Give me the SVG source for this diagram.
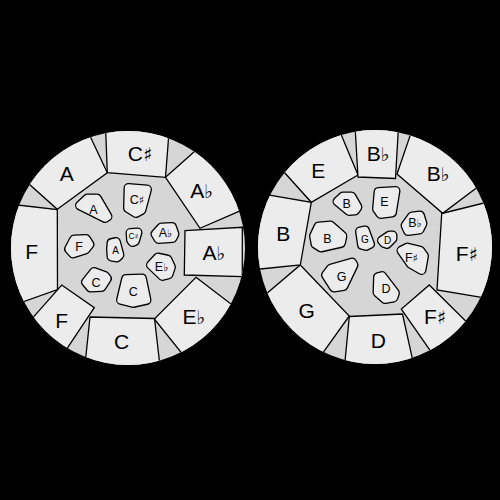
<svg xmlns="http://www.w3.org/2000/svg" xmlns:xlink="http://www.w3.org/1999/xlink" width="500" height="500" viewBox="0 0 500 500">
<style>
.base{fill:#d6d6d6}
.cell{fill:#ececec;stroke:#000;stroke-width:1.3;stroke-linejoin:miter}
.po{fill:#000;stroke:#000;stroke-width:10;stroke-linejoin:round}
.pi{fill:#ececec;stroke:#ececec;stroke-width:7.4;stroke-linejoin:round}
text{font-family:"Liberation Sans","DejaVu Sans",Arial,sans-serif;fill:#000;text-anchor:middle}
.big{font-size:21px}
.pad{font-size:12.5px}
.sm{font-size:10px}
.xs{font-size:8.5px}
.acc{font-family:"DejaVu Sans",sans-serif;font-size:0.9em;fill:#000}
</style>
<defs>
<clipPath id="clipL"><circle cx="128" cy="248" r="117"/></clipPath>
<clipPath id="clipR"><circle cx="375" cy="247" r="117"/></clipPath>
<polygon id="pL1" points="87.5,198.5 97,198.5 107.5,216.5 105,218 80,205.5"/>
<polygon id="pL2" points="128.5,188 147,189.5 141.5,210 136,213 128,208"/>
<polygon id="pL3" points="155.5,234 161.5,227.5 172,227 174.5,234 172.5,238 158.5,239"/>
<polygon id="pL4" points="130.5,233 137.5,232.5 135,241 132.5,242 131,240"/>
<polygon id="pL5" points="74,239.5 86,239 89.5,244.5 85.5,249.5 73,253.5 69,249"/>
<polygon id="pL6" points="111.5,243 116,242 119.5,255 117,257.5 111.5,256.5 111,249"/>
<polygon id="pL7" points="151,265 158,257.5 167.5,259.5 171,267 168.5,274.5 162.5,276"/>
<polygon id="pL8" points="94,272 105,276 107,278.5 101.5,287 90.5,287.5 86,282"/>
<polygon id="pL9" points="126,279 142,278.5 146.5,300 133,303 121,300"/>
<polygon id="pR1" points="337.5,201.5 343,196.5 351.5,196.5 357.5,207 355,210.5 349,211"/>
<polygon id="pR2" points="378.5,192 395.5,191 392,212.5 380.5,214 377,209"/>
<polygon id="pR3" points="405.5,225.5 412,216.5 420,215.5 422.5,223.5 419.5,229.5 408,231"/>
<polygon id="pR4" points="314,236 318.5,226.5 330.5,225.5 342.5,236 341,243 321,247.5 315.5,244"/>
<polygon id="pR5" points="360,231.5 365,230.5 370,244 366,246 362,245"/>
<polygon id="pR6" points="382,240.5 389.5,235.5 392.5,235.5 392.5,238.5 387,244 384,243"/>
<polygon id="pR7" points="401.5,250.5 407.5,247.5 420,250.5 424,256 421.5,270 411,264"/>
<polygon id="pR8" points="326,275 331,268.5 352,262.5 353.5,265 343.5,286 334,287.5"/>
<polygon id="pR9" points="378,277 382,276 395,293 393.5,297.5 385,299 377.5,292.5"/>
</defs>
<rect width="500" height="500" fill="#000"/>

<!-- LEFT INSTRUMENT -->
<g id="left-drum">
<circle class="base" cx="128" cy="248" r="117"/>
<g clip-path="url(#clipL)">
<g id="L-A"><polygon class="cell" points="57.3,209.3 107.3,172.7 72.7,99.3 1.3,159.3"/><text class="big" x="66.7" y="181">A</text></g>
<g id="L-Cs"><polygon class="cell" points="104.5,100 107.3,172.7 165.5,177.3 171.5,100"/><text class="big" x="140" y="161">C<tspan class="acc">♯</tspan></text></g>
<g id="L-Ab1"><polygon class="cell" points="165.5,177.3 221,128 276.6,195 200,228.3"/><text class="big" x="201.7" y="197.5">A<tspan class="acc">♭</tspan></text></g>
<g id="L-Ab2"><polygon class="cell" points="185,230.7 242.3,227.3 242.3,276.7 184.3,275"/><text class="big" x="214" y="259.5">A<tspan class="acc">♭</tspan></text></g>
<g id="L-Eb"><polygon class="cell" points="196,277.3 264,329.3 205.7,383 154.3,319"/><text class="big" x="194" y="324">E<tspan class="acc">♭</tspan></text></g>
<g id="L-C"><polygon class="cell" points="90,317 154.5,318.5 164.5,405.5 81.4,399"/><text class="big" x="121.7" y="349">C</text></g>
<g id="L-F2"><polygon class="cell" points="61.7,285 94.3,307.7 42.3,385.7 6.9,347"/><text class="big" x="61.7" y="327.5">F</text></g>
<g id="L-F1"><polygon class="cell" points="57.3,209.5 57.5,289.5 -10.9,313.9 -21.9,200.5"/><text class="big" x="31.7" y="259">F</text></g>
</g>
<g id="L-pad-A"><use xlink:href="#pL1" class="po"/><use xlink:href="#pL1" class="pi"/><text class="pad" x="93.3" y="213.8">A</text></g>
<g id="L-pad-Cs"><use xlink:href="#pL2" class="po"/><use xlink:href="#pL2" class="pi"/><text class="pad" x="137" y="203.8">C<tspan class="acc">♯</tspan></text></g>
<g id="L-pad-Ab"><use xlink:href="#pL3" class="po"/><use xlink:href="#pL3" class="pi"/><text class="pad" x="165.5" y="236.5">A<tspan class="acc">♭</tspan></text></g>
<g id="L-pad-Cs-small"><use xlink:href="#pL4" class="po"/><use xlink:href="#pL4" class="pi"/><text class="xs" x="133.5" y="238.6">C<tspan class="acc">♯</tspan></text></g>
<g id="L-pad-F"><use xlink:href="#pL5" class="po"/><use xlink:href="#pL5" class="pi"/><text class="pad" x="79" y="251.2">F</text></g>
<g id="L-pad-A-small"><use xlink:href="#pL6" class="po"/><use xlink:href="#pL6" class="pi"/><text class="sm" x="115.5" y="254.1">A</text></g>
<g id="L-pad-Eb"><use xlink:href="#pL7" class="po"/><use xlink:href="#pL7" class="pi"/><text class="pad" x="161.7" y="270.7">E<tspan class="acc">♭</tspan></text></g>
<g id="L-pad-C1"><use xlink:href="#pL8" class="po"/><use xlink:href="#pL8" class="pi"/><text class="pad" x="96" y="286.5">C</text></g>
<g id="L-pad-C2"><use xlink:href="#pL9" class="po"/><use xlink:href="#pL9" class="pi"/><text class="pad" x="133.3" y="296.2">C</text></g>
</g>

<!-- RIGHT INSTRUMENT -->
<g id="right-drum">
<circle class="base" cx="375" cy="247" r="117"/>
<g clip-path="url(#clipR)">
<g id="R-E"><polygon class="cell" points="358,175 311.3,202.3 256.1,141.1 324.6,95"/><text class="big" x="318.3" y="177.5">E</text></g>
<g id="R-Bb1"><polygon class="cell" points="353.5,100 358,177 395.5,178.5 400,100"/><text class="big" x="378.3" y="161">B<tspan class="acc">♭</tspan></text></g>
<g id="R-Bb2"><polygon class="cell" points="397,174 423,98 504.7,166.7 442.7,213.3"/><text class="big" x="438.3" y="181">B<tspan class="acc">♭</tspan></text></g>
<g id="R-Fs1"><polygon class="cell" points="441.7,213.5 522.3,193.5 521,304 437,290"/><text class="big" x="466.7" y="261">F<tspan class="acc">♯</tspan></text></g>
<g id="R-Fs2"><polygon class="cell" points="429.3,285 500,355 456,387.6 401.3,309"/><text class="big" x="435" y="324">F<tspan class="acc">♯</tspan></text></g>
<g id="R-D"><polygon class="cell" points="349.3,316.5 402.5,314 421.5,400 341.3,400"/><text class="big" x="378.3" y="347.5">D</text></g>
<g id="R-G"><polygon class="cell" points="300.3,265 349.3,316 298.1,387.4 233.7,321.6"/><text class="big" x="306.7" y="317.5">G</text></g>
<g id="R-B"><polygon class="cell" points="311.3,202.3 300.3,265 220.3,273 226.1,187.7"/><text class="big" x="283.3" y="241">B</text></g>
</g>
<g id="R-pad-B1"><use xlink:href="#pR1" class="po"/><use xlink:href="#pR1" class="pi"/><text class="pad" x="346.7" y="207.8">B</text></g>
<g id="R-pad-E"><use xlink:href="#pR2" class="po"/><use xlink:href="#pR2" class="pi"/><text class="pad" x="384.5" y="206.2">E</text></g>
<g id="R-pad-Bb"><use xlink:href="#pR3" class="po"/><use xlink:href="#pR3" class="pi"/><text class="pad" x="415" y="226.8">B<tspan class="acc">♭</tspan></text></g>
<g id="R-pad-B2"><use xlink:href="#pR4" class="po"/><use xlink:href="#pR4" class="pi"/><text class="pad" x="327.3" y="242.8">B</text></g>
<g id="R-pad-G-small"><use xlink:href="#pR5" class="po"/><use xlink:href="#pR5" class="pi"/><text class="sm" x="365" y="243">G</text></g>
<g id="R-pad-D-small"><use xlink:href="#pR6" class="po"/><use xlink:href="#pR6" class="pi"/><text class="sm" x="387.5" y="244.3">D</text></g>
<g id="R-pad-Fs"><use xlink:href="#pR7" class="po"/><use xlink:href="#pR7" class="pi"/><text class="pad" x="411.5" y="261.8">F<tspan class="acc">♯</tspan></text></g>
<g id="R-pad-G"><use xlink:href="#pR8" class="po"/><use xlink:href="#pR8" class="pi"/><text class="pad" x="341.7" y="281.2">G</text></g>
<g id="R-pad-D"><use xlink:href="#pR9" class="po"/><use xlink:href="#pR9" class="pi"/><text class="pad" x="386" y="292.8">D</text></g>
</g>
</svg>
